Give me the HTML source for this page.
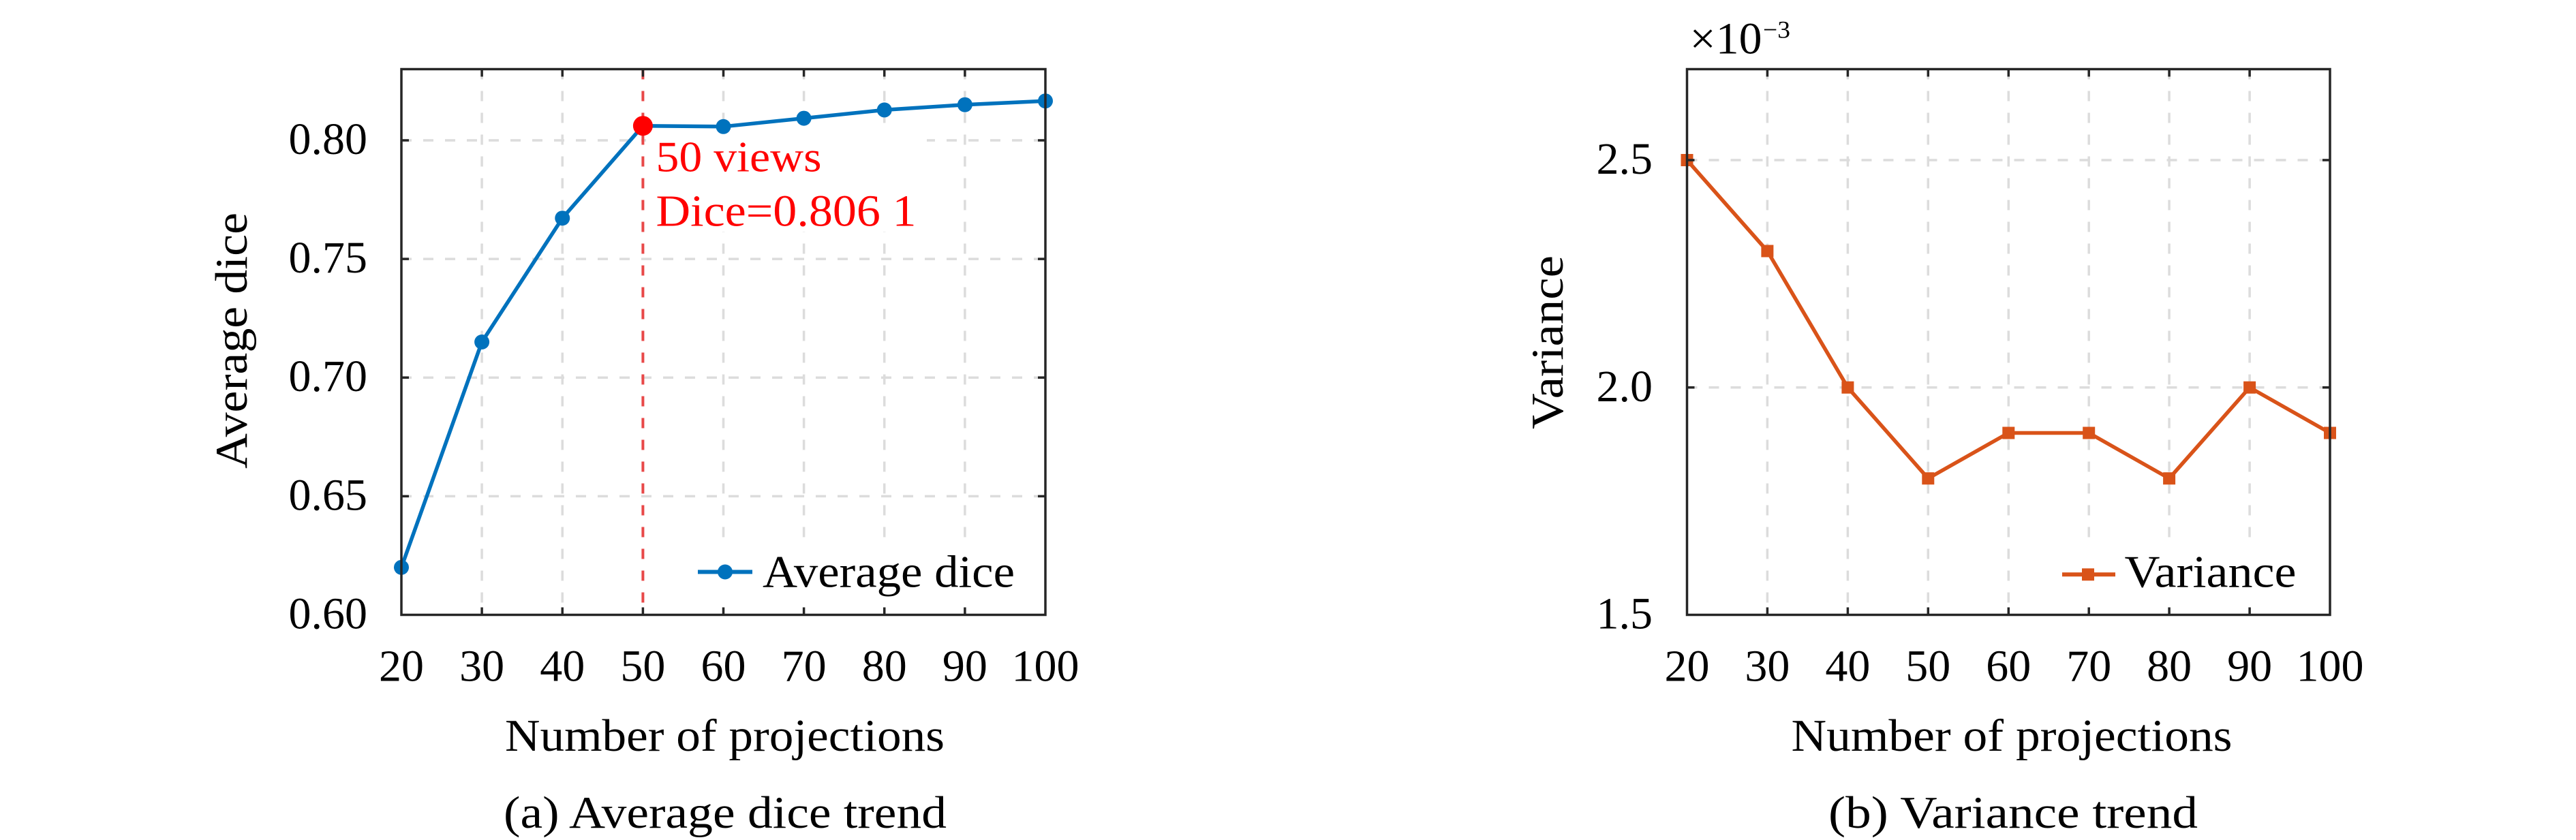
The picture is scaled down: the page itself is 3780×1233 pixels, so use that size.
<!DOCTYPE html>
<html>
<head>
<meta charset="utf-8">
<style>
  html, body { margin: 0; padding: 0; background: #ffffff; }
  svg { display: block; }
  text { font-family: "Liberation Serif", "DejaVu Serif", serif; }
</style>
</head>
<body>
<svg width="3780" height="1233" viewBox="0 0 3780 1233" xmlns="http://www.w3.org/2000/svg">
  <rect x="0" y="0" width="3780" height="1233" fill="#ffffff"/>

  <!-- ============ LEFT PLOT ============ -->
  <!-- grid -->
  <g stroke="#dcdcdc" stroke-width="3.5" stroke-dasharray="15 17" fill="none">
    <line x1="707.1" y1="101.5" x2="707.1" y2="902.5"/>
    <line x1="825.25" y1="101.5" x2="825.25" y2="902.5"/>
    <line x1="1061.5" y1="101.5" x2="1061.5" y2="902.5"/>
    <line x1="1179.6" y1="101.5" x2="1179.6" y2="902.5"/>
    <line x1="1297.75" y1="101.5" x2="1297.75" y2="902.5"/>
    <line x1="1415.9" y1="101.5" x2="1415.9" y2="902.5"/>
    <line x1="589" y1="728.4" x2="1534" y2="728.4"/>
    <line x1="589" y1="554.2" x2="1534" y2="554.2"/>
    <line x1="589" y1="380.1" x2="1534" y2="380.1"/>
    <line x1="589" y1="206" x2="1534" y2="206"/>
  </g>
  <!-- annotation & legend backgrounds -->
  <rect x="948" y="193" width="412" height="147" fill="#ffffff"/>
  <rect x="1000" y="797" width="528" height="96" fill="#ffffff"/>
  <!-- red dashed line -->
  <line x1="943.4" y1="101.5" x2="943.4" y2="902.5" stroke="#e84848" stroke-width="4" stroke-dasharray="15 17"/>
  <!-- data line -->
  <polyline fill="none" stroke="#0072BD" stroke-width="5.5" stroke-linejoin="round"
    points="589,832.85 707.1,502 825.25,320.2 943.4,184.7 1061.5,185.8 1179.6,173.6 1297.75,161.4 1415.9,153.7 1534,148.2"/>
  <g fill="#0072BD">
    <circle cx="589" cy="832.85" r="11"/>
    <circle cx="707.1" cy="502" r="11"/>
    <circle cx="825.25" cy="320.2" r="11"/>
    <circle cx="1061.5" cy="185.8" r="11"/>
    <circle cx="1179.6" cy="173.6" r="11"/>
    <circle cx="1297.75" cy="161.4" r="11"/>
    <circle cx="1415.9" cy="153.7" r="11"/>
    <circle cx="1534" cy="148.2" r="11"/>
  </g>
  <circle cx="943.4" cy="184.7" r="14.5" fill="#ff0000"/>
  <!-- axes box -->
  <rect x="589" y="101.5" width="945" height="801" fill="none" stroke="#262626" stroke-width="3.5"/>
  <!-- ticks -->
  <g stroke="#262626" stroke-width="3.5">
    <line x1="707.1" y1="902.5" x2="707.1" y2="891.5"/><line x1="707.1" y1="101.5" x2="707.1" y2="112.5"/>
    <line x1="825.25" y1="902.5" x2="825.25" y2="891.5"/><line x1="825.25" y1="101.5" x2="825.25" y2="112.5"/>
    <line x1="943.4" y1="902.5" x2="943.4" y2="891.5"/><line x1="943.4" y1="101.5" x2="943.4" y2="112.5"/>
    <line x1="1061.5" y1="902.5" x2="1061.5" y2="891.5"/><line x1="1061.5" y1="101.5" x2="1061.5" y2="112.5"/>
    <line x1="1179.6" y1="902.5" x2="1179.6" y2="891.5"/><line x1="1179.6" y1="101.5" x2="1179.6" y2="112.5"/>
    <line x1="1297.75" y1="902.5" x2="1297.75" y2="891.5"/><line x1="1297.75" y1="101.5" x2="1297.75" y2="112.5"/>
    <line x1="1415.9" y1="902.5" x2="1415.9" y2="891.5"/><line x1="1415.9" y1="101.5" x2="1415.9" y2="112.5"/>
    <line x1="589" y1="728.4" x2="600" y2="728.4"/><line x1="1534" y1="728.4" x2="1523" y2="728.4"/>
    <line x1="589" y1="554.2" x2="600" y2="554.2"/><line x1="1534" y1="554.2" x2="1523" y2="554.2"/>
    <line x1="589" y1="380.1" x2="600" y2="380.1"/><line x1="1534" y1="380.1" x2="1523" y2="380.1"/>
    <line x1="589" y1="206" x2="600" y2="206"/><line x1="1534" y1="206" x2="1523" y2="206"/>
  </g>
  <!-- legend -->
  <line x1="1024" y1="839.5" x2="1104" y2="839.5" stroke="#0072BD" stroke-width="6"/>
  <circle cx="1064" cy="839.5" r="11" fill="#0072BD"/>
  <text x="1119" y="861.5" font-size="67" textLength="370" lengthAdjust="spacingAndGlyphs">Average dice</text>
  <!-- annotation -->
  <text x="962.5" y="251.7" font-size="64" fill="#ff0000" textLength="243" lengthAdjust="spacingAndGlyphs">50 views</text>
  <text x="962.5" y="331.7" font-size="66" fill="#ff0000" textLength="382" lengthAdjust="spacingAndGlyphs">Dice=0.806 1</text>
  <!-- y tick labels -->
  <g font-size="66" text-anchor="end">
    <text x="539" y="922.5">0.60</text>
    <text x="539" y="748.4">0.65</text>
    <text x="539" y="574.2">0.70</text>
    <text x="539" y="400.1">0.75</text>
    <text x="539" y="226">0.80</text>
  </g>
  <!-- x tick labels -->
  <g font-size="66" text-anchor="middle">
    <text x="589" y="999.5">20</text>
    <text x="707.1" y="999.5">30</text>
    <text x="825.25" y="999.5">40</text>
    <text x="943.4" y="999.5">50</text>
    <text x="1061.5" y="999.5">60</text>
    <text x="1179.6" y="999.5">70</text>
    <text x="1297.75" y="999.5">80</text>
    <text x="1415.9" y="999.5">90</text>
    <text x="1534" y="999.5">100</text>
  </g>
  <text x="1063.5" y="1102" font-size="67" text-anchor="middle" textLength="645" lengthAdjust="spacingAndGlyphs">Number of projections</text>
  <text x="1064" y="1215" font-size="67" text-anchor="middle" textLength="650" lengthAdjust="spacingAndGlyphs">(a) Average dice trend</text>
  <text transform="translate(362,500) rotate(-90)" x="0" y="0" font-size="67" text-anchor="middle" textLength="376" lengthAdjust="spacingAndGlyphs">Average dice</text>

  <!-- ============ RIGHT PLOT ============ -->
  <g stroke="#dcdcdc" stroke-width="3.5" stroke-dasharray="15 17" fill="none">
    <line x1="2593.4" y1="101.5" x2="2593.4" y2="902.5"/>
    <line x1="2711.4" y1="101.5" x2="2711.4" y2="902.5"/>
    <line x1="2829.3" y1="101.5" x2="2829.3" y2="902.5"/>
    <line x1="2947.3" y1="101.5" x2="2947.3" y2="902.5"/>
    <line x1="3065.2" y1="101.5" x2="3065.2" y2="902.5"/>
    <line x1="3183.1" y1="101.5" x2="3183.1" y2="902.5"/>
    <line x1="3301.1" y1="101.5" x2="3301.1" y2="902.5"/>
    <line x1="2475.5" y1="568.75" x2="3419" y2="568.75"/>
    <line x1="2475.5" y1="235" x2="3419" y2="235"/>
  </g>
  <rect x="2990" y="800" width="424" height="93" fill="#ffffff"/>
  <polyline fill="none" stroke="#D95319" stroke-width="5.5" stroke-linejoin="round"
    points="2475.5,235 2593.4,368.5 2711.4,568.75 2829.3,702.25 2947.3,635.5 3065.2,635.5 3183.1,702.25 3301.1,568.75 3419,635.5"/>
  <g fill="#D95319">
    <rect x="2466.5" y="226" width="18" height="18"/>
    <rect x="2584.4" y="359.5" width="18" height="18"/>
    <rect x="2702.4" y="559.75" width="18" height="18"/>
    <rect x="2820.3" y="693.25" width="18" height="18"/>
    <rect x="2938.3" y="626.5" width="18" height="18"/>
    <rect x="3056.2" y="626.5" width="18" height="18"/>
    <rect x="3174.1" y="693.25" width="18" height="18"/>
    <rect x="3292.1" y="559.75" width="18" height="18"/>
    <rect x="3410" y="626.5" width="18" height="18"/>
  </g>
  <rect x="2475.5" y="101.5" width="943.5" height="801" fill="none" stroke="#262626" stroke-width="3.5"/>
  <g stroke="#262626" stroke-width="3.5">
    <line x1="2593.4" y1="902.5" x2="2593.4" y2="891.5"/><line x1="2593.4" y1="101.5" x2="2593.4" y2="112.5"/>
    <line x1="2711.4" y1="902.5" x2="2711.4" y2="891.5"/><line x1="2711.4" y1="101.5" x2="2711.4" y2="112.5"/>
    <line x1="2829.3" y1="902.5" x2="2829.3" y2="891.5"/><line x1="2829.3" y1="101.5" x2="2829.3" y2="112.5"/>
    <line x1="2947.3" y1="902.5" x2="2947.3" y2="891.5"/><line x1="2947.3" y1="101.5" x2="2947.3" y2="112.5"/>
    <line x1="3065.2" y1="902.5" x2="3065.2" y2="891.5"/><line x1="3065.2" y1="101.5" x2="3065.2" y2="112.5"/>
    <line x1="3183.1" y1="902.5" x2="3183.1" y2="891.5"/><line x1="3183.1" y1="101.5" x2="3183.1" y2="112.5"/>
    <line x1="3301.1" y1="902.5" x2="3301.1" y2="891.5"/><line x1="3301.1" y1="101.5" x2="3301.1" y2="112.5"/>
    <line x1="2475.5" y1="568.75" x2="2486.5" y2="568.75"/><line x1="3419" y1="568.75" x2="3408" y2="568.75"/>
    <line x1="2475.5" y1="235" x2="2486.5" y2="235"/><line x1="3419" y1="235" x2="3408" y2="235"/>
  </g>
  <!-- legend -->
  <line x1="3026" y1="843.3" x2="3104" y2="843.3" stroke="#D95319" stroke-width="6"/>
  <rect x="3055" y="834.3" width="18" height="18" fill="#D95319"/>
  <text x="3117.5" y="861.5" font-size="67" textLength="252" lengthAdjust="spacingAndGlyphs">Variance</text>
  <!-- exponent -->
  <text x="2479.5" y="78.5" font-size="66" textLength="106" lengthAdjust="spacingAndGlyphs">×10</text>
  <text x="2587" y="55.5" font-size="36" textLength="40" lengthAdjust="spacingAndGlyphs">−3</text>
  <!-- y tick labels -->
  <g font-size="66" text-anchor="end">
    <text x="2425" y="922.5">1.5</text>
    <text x="2425" y="588.75">2.0</text>
    <text x="2425" y="255">2.5</text>
  </g>
  <g font-size="66" text-anchor="middle">
    <text x="2475.5" y="999.5">20</text>
    <text x="2593.4" y="999.5">30</text>
    <text x="2711.4" y="999.5">40</text>
    <text x="2829.3" y="999.5">50</text>
    <text x="2947.3" y="999.5">60</text>
    <text x="3065.2" y="999.5">70</text>
    <text x="3183.1" y="999.5">80</text>
    <text x="3301.1" y="999.5">90</text>
    <text x="3419" y="999.5">100</text>
  </g>
  <text x="2952" y="1102" font-size="67" text-anchor="middle" textLength="647" lengthAdjust="spacingAndGlyphs">Number of projections</text>
  <text x="2954" y="1215" font-size="67" text-anchor="middle" textLength="542" lengthAdjust="spacingAndGlyphs">(b) Variance trend</text>
  <text transform="translate(2293,502.5) rotate(-90)" x="0" y="0" font-size="67" text-anchor="middle" textLength="255" lengthAdjust="spacingAndGlyphs">Variance</text>
</svg>
</body>
</html>
